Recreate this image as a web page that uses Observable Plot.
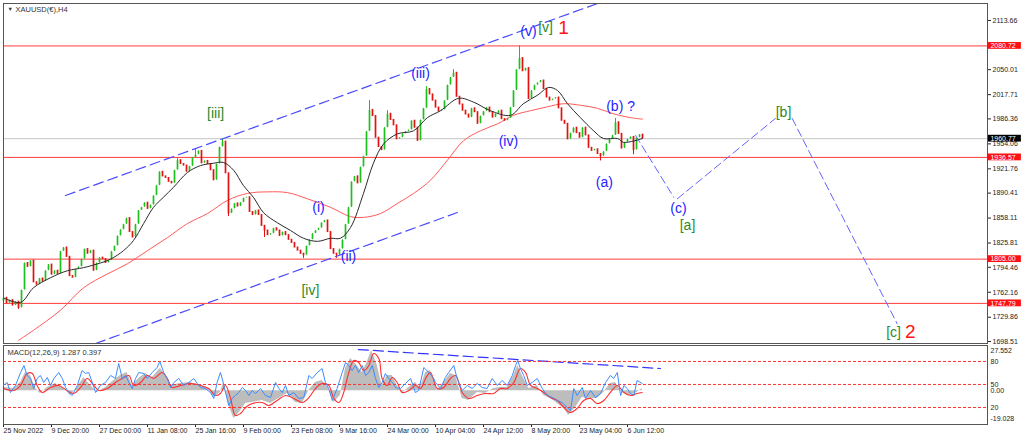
<!DOCTYPE html>
<html><head><meta charset="utf-8">
<script src="https://cdn.jsdelivr.net/npm/d3@7"></script>
<script src="https://cdn.jsdelivr.net/npm/@observablehq/plot@0.6"></script>
<style>
html,body{margin:0;padding:0;background:#fff;}
#wrap{position:relative;width:1024px;height:441px;overflow:hidden;background:#fff;}
#main{position:absolute;left:0;top:0;}
#macd,#osc{position:absolute;left:0;top:345px;}
svg{overflow:visible;}
</style></head><body>
<div id="wrap"><div id="main"></div><div id="macd"></div><div id="osc"></div></div>
<script>
// ---------- DATA ----------
const symbolTitle = "XAUUSD(€),H4";
const macdTitle = "MACD(12,26,9) 1.287 0.397";
const firstOpen = 1750;
const closes = [
1755,1748,1752,1745,1750,1742,1765,1800,1795,1803,
1775,1772,1780,1776,1790,1798,1785,1790,1786,1815,
1820,1808,1783,1781,1792,1795,1805,1818,1812,1816,
1790,1800,1807,1805,1800,1803,1815,1822,1835,1843,
1850,1858,1840,1833,1850,1868,1872,1878,1870,1875,
1887,1900,1918,1912,1910,1905,1903,1920,1933,1928,
1926,1918,1925,1936,1940,1945,1929,1932,1928,1920,
1907,1928,1950,1957,1916,1864,1870,1877,1873,1878,
1884,1885,1866,1862,1868,1862,1848,1842,1836,1838,
1845,1842,1835,1840,1836,1830,1826,1820,1816,1812,
1810,1822,1830,1838,1842,1845,1852,1855,1840,1818,
1812,1810,1818,1830,1850,1872,1905,1912,1903,1924,
1938,1970,1998,1990,1962,1950,1946,1975,1993,1985,
1978,1960,1962,1967,1970,1972,1984,1975,1958,1985,
2000,2025,2018,2010,2001,1996,1998,2010,2030,2040,
2046,2015,2005,1997,1992,1988,2000,1995,1980,1990,
1996,2001,1995,1988,1993,1997,1986,1984,1987,2001,
2023,2050,2065,2048,2052,2012,2023,2030,2033,2036,
2025,2014,2010,2012,2014,2000,1984,1980,1960,1968,
1975,1968,1962,1975,1965,1949,1945,1947,1941,1938,
1944,1954,1960,1965,1982,1967,1948,1956,1960,1963,
1946,1962,1966,1961];
const wickHighIdx = [73,122,128,141,150,172,204,58,64];
const wickHighVal = [1961,2010,1997,2028,2050,2081,1987,1936,1947];
const wickLowIdx  = [5,75,100,111,199,210,87];
const wickLowVal  = [1740,1860,1806,1806,1932,1940,1833];

const maFastIdx = [0,5.7,10,15.7,21.3,26.7,32.3,35.7,40,43.3,46.7,50,53.3,56.7,61.3,65.7,70,73.3,76.7,80,83.3,86.7,91.3,95.7,100,104.7,109,112.3,115.7,120,123.3,126.7,131.3,136.7,141.3,145.7,151.7,156.7,162.3,169,173.3,178,181.7,184.7,188,192.3,196.7,200,204.7,206.7,213];
const maFastVal = [1755,1749,1768,1781,1790,1794,1800,1805,1816,1829,1851,1872,1885,1898,1917,1926,1929,1930,1920,1900,1885,1865,1852,1842,1832,1828,1832,1832,1846,1890,1929,1954,1967,1971,1988,1997,2013,2008,1997,1991,2006,2017,2027,2023,2006,1988,1971,1961,1961,1956,1961];
const maSlowIdx = [5,10,19,26.7,34.7,41.3,48,54.7,61.3,68,74.7,81.3,88,94.7,101.3,109,115.7,120,125.7,131.3,136.7,142.3,148,153.3,159,164.7,170,175.7,181.3,186.7,192.3,198,203.3,209,213];
const maSlowVal = [1700,1713,1739,1768,1786,1799,1816,1833,1851,1864,1881,1890,1892,1891,1883,1872,1860,1859,1864,1877,1890,1907,1933,1958,1971,1980,1991,1997,2002,2006,2004,2000,1993,1988,1986];

const hLevels = [2080.72, 1936.57, 1805.00, 1747.79];
const currentPrice = 1960.77;
const priceTicks = [2113.66, 2050.01, 2017.71, 1986.36, 1954.06, 1921.76, 1890.41, 1858.11, 1825.81, 1794.46, 1762.16, 1729.86, 1698.51];

const channelUpperIdx = [20.67, 198];
const channelUpperVal = [1887.3, 2135.6];
const channelLowerIdx = [30.7, 151.3];
const channelLowerVal = [1695.9, 1865.3];

const projLeg = ["(c)","(c)","[b]","[b]","[c]","[c]"];
const projIdx = [210.7, 223.4, 224.6, 257.3, 262.9, 297.9];
const projVal = [1964.9, 1885.1, 1883.0, 1986.9, 1986.9, 1721.4];

const waveText   = ["[iii]","[iv]","(i)","(ii)","(iii)","(iv)","(v)","[v]","1","(b) ?","(a)","(c)","[a]","[b]","[c]","2"];
const waveIdx    = [70.7, 102.3, 105, 115, 139, 168.3, 175, 180.7, 186.7, 205.7, 200.3, 225, 228, 260, 296.7, 302.3];
const wavePrice  = [1993.3, 1764.4, 1871.8, 1808.4, 2045.1, 1957.1, 2099.4, 2104.6, 2104.6, 2002.4, 1904.1, 1870.5, 1848.5, 1994.6, 1710.1, 1711.4];
const waveDegree = ["minor","minor","minute","minute","minute","minute","minute","minor","intermediate","minute","minute","minute","minor","minor","minor","intermediate"];

const xTickIdx = [0,16,32,48,64,80,96,112,128,144,160,176,192,208];
const xTickLabels = ["25 Nov 2022","9 Dec 20:00","27 Dec 00:00","11 Jan 08:00","25 Jan 16:00","9 Feb 00:00","23 Feb 08:00","9 Mar 16:00","24 Mar 00:00","10 Apr 04:00","24 Apr 12:00","8 May 20:00","23 May 04:00","6 Jun 12:00"];

const blueIdx = [0,1.2,2.3,4,5.7,6.8,7.9,9,10.1,11.2,12.3,13.4,14.6,15.7,16.8,18.4,19.6,20.7,21.8,22.9,24.6,26.2,27.3,28.4,29.6,30.7,32.3,34,35.7,37.3,38.4,39.6,40.7,41.8,42.9,44,45.1,46.8,47.9,49.6,51.2,52.1,53.4,54.6,55.7,56.8,58.4,60.1,61.8,63.4,64.6,65.7,67.3,69,70.1,71.2,72.3,72.9,74,75.1,76.2,77.3,78.4,79.6,80.7,81.8,82.9,84,85.7,87.3,89,90.7,91.8,92.9,94,95.1,96.8,98.4,100.1,101.8,102.9,104.6,106.2,107.3,108.4,109.6,111.2,112.9,114,115.1,116.2,117.3,118.4,119.6,120.7,121.8,122.9,124,125.1,126.2,127.3,128.4,129.6,130.7,132.3,134,135.7,137.3,138.4,140.1,141.8,143.4,144,145.7,147.3,148.4,150.1,151.2,152.9,154.6,156.2,157.9,159.6,161.2,162.9,164.6,166.2,167.9,169.6,170.7,171.4,172.3,173.4,174.6,176.2,177.9,179.6,181.2,182.9,184.6,186.2,187.9,189,190.1,191.2,192.9,194,195.7,197.3,199,200.7,202.3,203.4,204.6,205.7,206.8,207.9,209,210.1,211.2,212.9];
const blueVal = [48.7,52.6,39.5,48.7,65.6,74.7,61.7,57.8,44.7,57.8,61.7,52.6,59.1,48.7,57.8,65.6,57.8,46.0,39.5,35.6,48.7,68.2,64.3,65.6,52.6,39.5,48.7,52.6,61.7,57.8,77.3,57.8,61.7,52.6,44.7,57.8,65.6,64.3,57.8,65.6,72.1,80.0,65.6,57.8,46.0,52.6,57.8,48.7,52.6,57.8,51.3,46.0,44.7,39.5,31.7,52.6,65.6,57.8,39.5,22.6,31.7,35.6,39.5,46.0,42.1,35.6,42.1,38.2,44.7,35.6,33.0,52.6,44.7,39.5,48.7,35.6,39.5,31.7,33.0,61.7,57.8,65.6,70.8,52.6,44.7,29.1,44.7,65.6,78.6,74.7,68.2,74.7,65.6,74.7,61.7,65.6,74.7,57.8,46.0,52.6,64.3,57.8,52.6,46.0,44.7,51.3,57.8,39.5,42.1,72.1,65.6,57.8,52.6,44.7,59.1,65.6,74.7,57.8,42.1,48.7,44.7,51.3,46.0,44.7,57.8,48.7,55.2,48.7,61.7,74.7,81.3,70.8,61.7,48.7,52.6,57.8,44.7,35.6,33.0,29.1,26.5,20.0,16.0,44.7,35.6,46.0,31.7,42.1,33.0,38.2,52.6,61.7,57.8,65.6,35.6,48.7,44.7,38.2,35.6,55.2,51.3];
const oscLevels = [80, 50, 20];

const sigIdx = [0.1,3.4,5.7,7.9,9.6,11.2,12.9,15.7,18.4,21.2,23.4,25.7,27.9,30.1,31.8,34.6,37.3,39.6,41.8,43.4,45.7,47.9,50.1,52.9,54.6,56.2,59,62.3,65.7,68.4,70.7,72.3,74,75.7,77.3,79,80.7,82.9,86.2,88.4,91.2,94,96.8,99.6,101.8,104,106.2,108.4,110.1,111.8,113.4,115.1,116.8,118.4,120.1,121.8,123.4,125.1,126.2,127.9,129.6,131.2,132.9,135.1,137.3,139,140.7,142.3,144.6,146.8,149,150.7,152.9,155.1,157.9,160.7,163.4,165.7,167.9,170.1,172.3,174,175.7,177.9,180.1,182.3,184.6,186.8,189,191.2,193.4,195.7,197.9,200.1,202.3,204.6,206.8,209,211.2,212.9];
const sigVal = [1.5,0.1,3.6,11.8,11.8,3.6,-1.2,2.2,3.6,0.1,-1.9,2.2,8.4,3.6,0.1,1.5,5.6,8.4,10.4,3.6,5.6,10.4,8.4,12.5,8.4,2.2,3.6,4.9,3.6,1.5,-3.3,-1.9,3.6,-5.3,-17.0,-15.6,-11.5,-8.8,-8.1,-10.1,-6.7,-3.3,-5.3,-8.1,-4.7,1.5,4.9,3.6,-5.3,-8.1,-1.2,12.5,20.7,19.3,13.8,17.3,25.5,22.1,8.4,3.6,9.0,5.6,-1.2,0.1,3.6,1.5,8.4,12.5,1.5,2.2,8.4,10.4,-1.2,-5.3,-3.3,-1.9,-1.9,1.5,1.5,5.6,15.2,12.5,3.6,1.5,-1.2,-4.7,-6.7,-11.5,-14.9,-12.2,-6.7,-5.3,-8.8,-6.7,-1.2,3.6,-1.2,-3.3,-1.9,-1.2];
const histIdx = [0.1,3.4,5.7,7.3,9,10.7,12.3,14.6,17.3,20.1,22.3,24.6,26.8,29,31.2,34,36.8,39,41.2,42.9,45.1,47.3,49.6,52.3,54,55.7,59,62.3,65.7,68.4,70.1,72.3,73.4,75.1,76.8,78.4,80.7,82.9,86.2,89,91.8,94.6,97.3,99.6,101.8,104,106.2,108.4,110.1,112.3,114,115.7,117.3,119.6,121.2,122.7,124.6,126.2,127.9,129.6,131.2,132.9,135.1,137.3,139,140.7,142.3,144.6,146.8,149,150.7,152.9,155.1,157.9,160.7,163.4,165.7,167.9,170.1,171.4,172.9,175.1,177.9,180.1,182.3,184.6,186.8,188.4,190.7,192.9,195.7,197.9,200.1,202.3,204,206.2,209,211.2,212.9];
const histVal = [2.2,1.5,5.6,12.5,10.4,1.5,-1.9,2.2,4.9,1.5,-3.3,2.2,9.0,3.6,-1.2,2.2,7.0,10.4,12.5,3.6,8.4,11.8,9.0,15.2,10.4,3.6,4.9,5.6,3.6,1.5,-4.7,-1.2,5.6,-10.1,-19.0,-15.6,-8.8,-8.1,-6.7,-8.8,-5.3,-1.9,-8.1,-8.8,0.1,5.6,7.0,1.5,-8.1,-3.3,15.2,22.1,18.6,12.5,19.3,27.5,17.3,3.6,10.4,10.4,3.6,-1.9,2.2,5.6,2.2,12.5,13.8,0.1,5.6,11.8,10.4,-5.3,-6.7,-1.2,-1.9,1.5,2.2,2.2,10.4,17.3,10.4,1.5,3.6,-3.3,-5.3,-8.8,-12.2,-17.0,-11.5,-4.7,-5.3,-5.3,-1.2,4.9,5.6,-1.2,-3.3,-1.2,1.5];
const macdTicks = [27.552, 0, -19.028];
const macdTickLabels = ["27.552", "0.00", "-19.028"];
const macdTrendIdx = [118.3, 219];
const macdTrendVal = [28.2, 15.2];

// ---------- BUILD ----------
const FONT = "Liberation Sans, Arial, sans-serif";
const pts = (ix, vs) => ix.map((x, k) => ({x, y: vs[k]}));
const candles = closes.map((c, i) => {
  const o = i === 0 ? firstOpen : closes[i - 1];
  let hi = Math.max(o, c), lo = Math.min(o, c);
  const h = wickHighIdx.indexOf(i); if (h >= 0) hi = Math.max(hi, wickHighVal[h]);
  const l = wickLowIdx.indexOf(i); if (l >= 0) lo = Math.min(lo, wickLowVal[l]);
  return {i, o, c, hi, lo, up: c >= o};
});
const waves = waveText.map((t, k) => ({t, x: waveIdx[k], y: wavePrice[k], d: waveDegree[k]}));
const degColor = {minor: "#2b8a2b", minute: "#2424ff", intermediate: "#ff1414"};
const proj = projIdx.map((x, k) => ({x, y: projVal[k], leg: projLeg[k]}));
const boxes = hLevels.map(p => ({p, fill: "#ff1010"})).concat([{p: currentPrice, fill: "#000"}]);
const xDom = [0, 328];
const candleColor = d => d.up ? "#1fbf1f" : "#e41111";

const mainPlot = Plot.plot({
  width: 1024, height: 345, marginLeft: 3, marginRight: 37, marginTop: 3, marginBottom: 2,
  x: {domain: xDom, axis: null},
  y: {domain: [1695.9, 2135.6]},
  style: {fontFamily: FONT, background: "transparent"},
  marks: [
    Plot.ruleY([currentPrice], {stroke: "#c6c6c6", strokeWidth: 1}),
    Plot.ruleY(hLevels, {stroke: "#ff3b3b", strokeWidth: 1}),
    Plot.line(pts(maSlowIdx, maSlowVal), {x: "x", y: "y", stroke: "#ff5a5a", strokeWidth: 1, curve: "catmull-rom"}),
    Plot.ruleX(candles, {x: "i", y1: "lo", y2: "hi", stroke: candleColor, strokeWidth: 1}),
    Plot.ruleX(candles, {x: "i", y1: "o", y2: "c", stroke: candleColor, strokeWidth: 1.7, insetTop: -0.5, insetBottom: -0.5}),
    Plot.line(pts(maFastIdx, maFastVal), {x: "x", y: "y", stroke: "#2b2b2b", strokeWidth: 1, curve: "catmull-rom"}),
    Plot.line(pts(channelUpperIdx, channelUpperVal), {x: "x", y: "y", stroke: "#4a4aff", strokeWidth: 1.2, strokeDasharray: "10,5"}),
    Plot.line(pts(channelLowerIdx, channelLowerVal), {x: "x", y: "y", stroke: "#4a4aff", strokeWidth: 1.2, strokeDasharray: "10,5"}),
    Plot.line(proj, {x: "x", y: "y", z: "leg", stroke: "#6464ff", strokeWidth: 1, strokeDasharray: "8,4"}),
    Plot.text(waves.filter(d => d.d !== "intermediate"), {x: "x", y: "y", text: "t", fill: d => degColor[d.d], fontSize: 14}),
    Plot.text(waves.filter(d => d.d === "intermediate"), {x: "x", y: "y", text: "t", fill: d => degColor[d.d], fontSize: 19}),
    Plot.text([symbolTitle], {frameAnchor: "top-left", dx: 12, dy: 3, textAnchor: "start", lineAnchor: "top", fontSize: 7.5, fill: "#333"}),
    Plot.text(["▼"], {frameAnchor: "top-left", dx: 4, dy: 4, textAnchor: "start", lineAnchor: "top", fontSize: 5.5, fill: "#333"}),
    Plot.axisY({ticks: priceTicks, anchor: "right", tickSize: 3, tickPadding: 2, fontSize: 7, color: "#222", tickFormat: d => d.toFixed(2), label: null}),
    Plot.rect(boxes, {x1: 328.3, x2: 339.3, y1: d => d.p - 4.4, y2: d => d.p + 4.4, fill: "fill"}),
    Plot.text(boxes, {x: 328.3, y: "p", text: d => d.p.toFixed(2), dx: 2, textAnchor: "start", fill: "#fff", fontSize: 7}),
    Plot.frame({stroke: "#555", strokeWidth: 1})
  ]
});
document.getElementById("main").appendChild(mainPlot);

const macdPlot = Plot.plot({
  width: 1024, height: 96, marginLeft: 3, marginRight: 37, marginTop: 0, marginBottom: 17,
  x: {domain: xDom},
  y: {domain: [-23.15, 30.96]},
  style: {fontFamily: FONT, background: "transparent"},
  marks: [
    Plot.areaY(pts(histIdx, histVal), {x: "x", y1: 0, y2: "y", fill: "#bdbdbd"}),
    Plot.line(pts(sigIdx, sigVal), {x: "x", y: "y", stroke: "#ff3030", strokeWidth: 1.1, curve: "catmull-rom"}),
    Plot.line(pts(macdTrendIdx, macdTrendVal), {x: "x", y: "y", stroke: "#3535ff", strokeWidth: 1.2, strokeDasharray: "10,5"}),
    Plot.text([macdTitle], {frameAnchor: "top-left", dx: 4, dy: 4, textAnchor: "start", lineAnchor: "top", fontSize: 7.5, fill: "#333"}),
    Plot.axisY({ticks: macdTicks, anchor: "right", tickSize: 0, tickPadding: 3, fontSize: 7, color: "#222", tickFormat: d => macdTickLabels[macdTicks.indexOf(d)], label: null}),
    Plot.axisX({ticks: xTickIdx, anchor: "bottom", tickSize: 3, tickPadding: 1, fontSize: 7, color: "#222", textAnchor: "start", tickFormat: d => xTickLabels[xTickIdx.indexOf(d)], label: null}),
    Plot.frame({stroke: "#555", strokeWidth: 1})
  ]
});
document.getElementById("macd").appendChild(macdPlot);

const oscPlot = Plot.plot({
  width: 1024, height: 96, marginLeft: 3, marginRight: 37, marginTop: 0, marginBottom: 17,
  x: {domain: xDom, axis: null},
  y: {domain: [-2.2, 100.8]},
  style: {fontFamily: FONT, background: "transparent"},
  marks: [
    Plot.ruleY(oscLevels, {stroke: "#ff3030", strokeWidth: 1, strokeDasharray: "3,2"}),
    Plot.line(pts(blueIdx, blueVal), {x: "x", y: "y", stroke: "#3c8cff", strokeWidth: 1}),
    Plot.axisY({ticks: oscLevels, anchor: "right", tickSize: 0, tickPadding: 3, fontSize: 7, color: "#222", tickFormat: d => String(d), label: null})
  ]
});
document.getElementById("osc").appendChild(oscPlot);
</script>
</body></html>
